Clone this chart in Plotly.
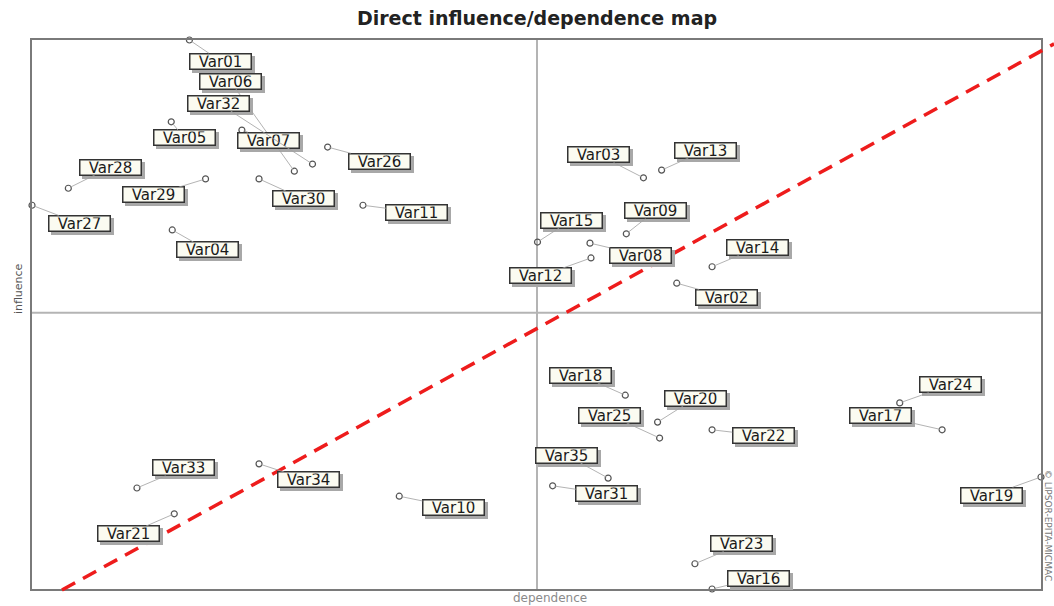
import plotly.graph_objects as go

# ---------------- data ----------------
variables = ["Var01", "Var02", "Var03", "Var04", "Var05", "Var06", "Var07", "Var08", "Var09", "Var10",
             "Var11", "Var12", "Var13", "Var14", "Var15", "Var16", "Var17", "Var18", "Var19", "Var20",
             "Var21", "Var22", "Var23", "Var24", "Var25", "Var26", "Var27", "Var28", "Var29", "Var30",
             "Var31", "Var32", "Var33", "Var34", "Var35"]
dependence = [15.6, 63.9, 60.6, 13.9, 13.8, 26.0, 20.8, 55.3, 58.9, 36.4,
              32.8, 55.4, 62.4, 67.4, 50.1, 67.4, 90.2, 58.8, 100.0, 62.0,
              14.1, 67.4, 65.7, 86.0, 62.2, 29.3, 0.0, 3.6, 17.2, 22.5,
              51.6, 27.8, 10.4, 22.5, 57.1]
influence = [100.0, 55.7, 74.9, 65.4, 85.1, 76.1, 83.6, 63.0, 64.7, 16.9,
             69.9, 60.3, 76.3, 58.7, 63.2, 0.0, 29.0, 35.3, 20.4, 30.4,
             13.7, 29.0, 4.6, 33.9, 27.5, 80.5, 69.9, 73.0, 74.7, 74.7,
             18.8, 77.4, 18.4, 22.8, 20.2]

# quadrant thresholds (mean lines) and the diagonal reference line
threshold_dependence = 50.05
threshold_influence = 50.3
diagonal_dependence = [2.97, 101.3]
diagonal_influence = [-0.18, 99.3]

axis_range = [0, 100]

# ---------------- label placement (pixel offsets from point) ----------------
label_offsets = {
    "Var01": (31, 21), "Var02": (50, 14), "Var03": (-45, -23), "Var04": (35, 20),
    "Var05": (13, 16), "Var06": (-64, -90), "Var07": (27, 10), "Var08": (51, 12),
    "Var09": (29, -23), "Var10": (54, 11), "Var11": (54, 7), "Var12": (-50, 18),
    "Var13": (44, -20), "Var14": (45, -19), "Var15": (34, -22), "Var16": (46, -11),
    "Var17": (-62, -14), "Var18": (-45, -20), "Var19": (-50, 18), "Var20": (38, -24),
    "Var21": (-46, 20), "Var22": (51, 6), "Var23": (47, -20), "Var24": (51, -18),
    "Var25": (-50, -23), "Var26": (52, 14), "Var27": (47, 18), "Var28": (42, -21),
    "Var29": (-52, 16), "Var30": (44, 20), "Var31": (54, 8), "Var32": (-94, -61),
    "Var33": (47, -20), "Var34": (49, 16), "Var35": (-42, -23),
}

BOX_W, BOX_H = 58, 12
label_font = dict(family="DejaVu Sans", size=15, color="#1a1a1a")

fig = go.Figure()

fig.add_trace(go.Scatter(
    x=dependence, y=influence, mode="markers",
    marker=dict(symbol="circle-open", size=6, color="#555555", line=dict(width=1.2, color="#555555")),
    cliponaxis=False, hoverinfo="text", text=variables, showlegend=False,
))

annotations = []
# shadows first
for name, xv, yv in zip(variables, dependence, influence):
    ax, ay = label_offsets[name]
    annotations.append(dict(
        x=xv, y=yv, xref="x", yref="y", text=" ", showarrow=False,
        xshift=ax + 3, yshift=-ay - 3, xanchor="center", yanchor="middle",
        width=BOX_W, height=BOX_H, borderpad=1, borderwidth=1.5,
        bgcolor="#a8a8a8", bordercolor="#a8a8a8", font=label_font,
    ))
for name, xv, yv in zip(variables, dependence, influence):
    ax, ay = label_offsets[name]
    annotations.append(dict(
        x=xv, y=yv, xref="x", yref="y", text=name, showarrow=True,
        ax=ax, ay=ay, arrowhead=0, arrowwidth=0.8, arrowcolor="#a0a0a0", standoff=2,
        width=BOX_W, height=BOX_H, borderpad=1, borderwidth=1.5,
        bgcolor="#fbfbf1", bordercolor="#333333", font=label_font,
    ))

# axis titles and credits
annotations.append(dict(xref="paper", yref="paper", x=-0.0139, y=0.548, text="influence",
                        textangle=-90, showarrow=False, xanchor="center", yanchor="middle",
                        font=dict(family="DejaVu Sans", size=11, color="#555555")))
annotations.append(dict(xref="paper", yref="paper", x=0.513, y=0, yshift=-9, text="dependence",
                        showarrow=False, xanchor="center", yanchor="middle",
                        font=dict(family="DejaVu Sans", size=12, color="#8a8a8a")))
annotations.append(dict(xref="paper", yref="paper", x=1.0, xshift=7, y=0.117, text="© LIPSOR-EPITA-MICMAC",
                        textangle=90, showarrow=False, xanchor="center", yanchor="middle",
                        font=dict(family="DejaVu Sans", size=9, color="#777777")))

span = axis_range[1] - axis_range[0]
shapes = [
    dict(type="line", xref="x", yref="paper", x0=threshold_dependence, x1=threshold_dependence, y0=0, y1=1,
         line=dict(color="#b4b4b4", width=2), layer="below"),
    dict(type="line", xref="paper", yref="y", x0=0, x1=1, y0=threshold_influence, y1=threshold_influence,
         line=dict(color="#b4b4b4", width=2), layer="below"),
    dict(type="line", xref="paper", yref="paper",
         x0=(diagonal_dependence[0] - axis_range[0]) / span, x1=(diagonal_dependence[1] - axis_range[0]) / span,
         y0=(diagonal_influence[0] - axis_range[0]) / span, y1=(diagonal_influence[1] - axis_range[0]) / span,
         line=dict(color="#ee1c1c", width=3.5, dash="15px,9px"), layer="above"),
]

fig.update_layout(
    width=1054, height=606,
    margin=dict(l=32, r=13, t=40, b=17, autoexpand=False),
    paper_bgcolor="white", plot_bgcolor="white",
    title=dict(text="<b>Direct influence/dependence map</b>", xref="container", x=0.5095, y=0.97,
               xanchor="center", yanchor="middle",
               font=dict(family="DejaVu Sans", size=19, color="#222222")),
    xaxis=dict(range=axis_range, showgrid=False, zeroline=False, showticklabels=False, ticks="",
               showline=True, mirror=True, linecolor="#7a7a7a", linewidth=2),
    yaxis=dict(range=axis_range, showgrid=False, zeroline=False, showticklabels=False, ticks="",
               showline=True, mirror=True, linecolor="#7a7a7a", linewidth=2),
    annotations=annotations,
    shapes=shapes,
    showlegend=False,
)

fig.write_html("out.html", config={"displayModeBar": False},
               post_script="document.body.style.margin='0';document.body.style.overflow='hidden';")
